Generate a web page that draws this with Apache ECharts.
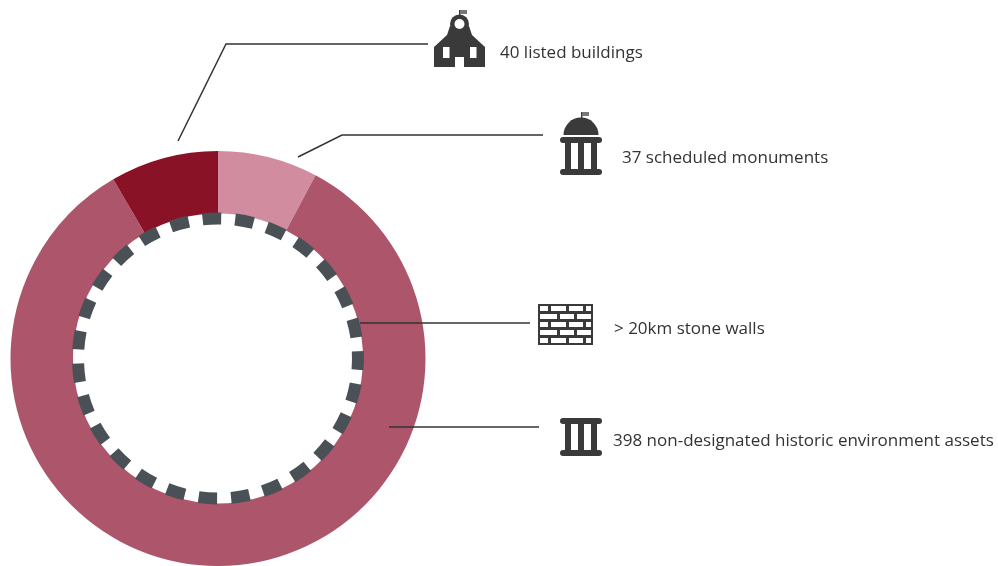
<!DOCTYPE html>
<html>
<head>
<meta charset="utf-8">
<style>
  html, body { margin: 0; padding: 0; background: #fff; }
  #main { width: 998px; height: 566px; }
</style>
<script src="https://cdn.jsdelivr.net/npm/echarts@6/dist/echarts.min.js"></script>
</head>
<body>
<div id="main"></div>
<script>
var assetNames = ['37 scheduled monuments', '398 non-designated historic environment assets', '40 listed buildings'];
var assetValues = [37, 398, 40];
var assetColors = ['#d18c9f', '#ad556b', '#8a1226'];

// stone wall ring, one dash + one gap per entry, in degrees
var wallDashes = [7.6, 7.6, 7.6, 7.6, 7.6, 7.6, 7.6, 7.6, 7.6, 7.6, 7.6, 7.6, 7.6, 7.6, 7.6, 7.6, 7.6, 7.6, 7.6, 7.6, 7.6, 7.6, 7.6, 7.6, 7.6, 7.6, 7.6];
var wallGaps = [5.73, 5.73, 5.73, 5.73, 5.73, 5.73, 5.73, 5.73, 5.73, 5.73, 5.73, 5.73, 5.73, 5.73, 5.73, 5.73, 5.73, 5.73, 5.73, 5.73, 5.73, 5.73, 5.73, 5.73, 5.73, 5.73, 5.73];

var labelTexts = ['40 listed buildings', '37 scheduled monuments', '> 20km stone walls', '398 non-designated historic environment assets'];

var inkColor = '#3a3a3a';
var textFont = '17px "Open Sans"';

var wallData = [];
wallDashes.forEach(function(d, i) {
	wallData.push({ value: d, itemStyle: { color: '#4a5156' } });
	wallData.push({ value: wallGaps[i], itemStyle: { color: 'transparent' } });
});

function rect(x, y, w, h, fill, r) {
	return { type: 'rect', z: 100, shape: { x: x, y: y, width: w, height: h, r: r || 0 }, style: { fill: fill || inkColor } };
}

function leader(points) {
	return { type: 'polyline', z: 100, shape: { points: points }, style: { stroke: '#333', lineWidth: 1.5, fill: null } };
}

function label(text, x, y) {
	return { type: 'text', z: 100, x: x, y: y, style: { text: text, font: textFont, fill: '#333', verticalAlign: 'middle' } };
}

function flag(x, y) {
	return [rect(x, y, 1.5, 8), rect(x + 1, y, 7, 4, '#777')];
}

function churchIcon() {
	return [
		{ type: 'polygon', z: 100, shape: { points: [[450, 26], [469, 26], [472, 35], [485, 47], [485, 67], [434, 67], [434, 47], [447, 35]] }, style: { fill: inkColor } },
		{ type: 'circle', z: 100, shape: { cx: 459.5, cy: 24, r: 9.5 }, style: { fill: inkColor } },
		{ type: 'circle', z: 101, shape: { cx: 459.5, cy: 24, r: 5 }, style: { fill: '#fff' } },
		rect(443, 47, 6.5, 11, '#fff'),
		rect(470, 47, 6.5, 11, '#fff'),
		rect(455, 57, 9, 10, '#fff')
	].concat(flag(459, 10));
}

function columnRow(y, h) {
	return [565, 578, 591].map(function(x) {
		return rect(x, y, 6, h);
	});
}

function monumentIcon() {
	return [
		{ type: 'sector', z: 100, shape: { cx: 581, cy: 135, r: 17.5, r0: 0, startAngle: Math.PI, endAngle: Math.PI * 2 }, style: { fill: inkColor } },
		rect(560, 137, 42, 6, inkColor, 3),
		rect(560, 169, 42, 6, inkColor, 3)
	].concat(columnRow(142, 28), flag(581, 112));
}

function wallIcon() {
	var out = [rect(538, 304, 55, 41)];
	var rowH = 8;
	for (var row = 0; row < 5; row++) {
		var y = 306 + row * rowH;
		var edges = row % 2 === 0 ? [[540, 548], [551, 566], [569, 583], [586, 591]] : [[540, 557], [560, 574], [577, 591]];
		edges.forEach(function(e) {
			out.push(rect(e[0], y, e[1] - e[0], 5, '#fff'));
		});
	}
	return out;
}

function pillarIcon() {
	return [
		rect(560, 418, 42, 6, inkColor, 3),
		rect(560, 450, 42, 6, inkColor, 3)
	].concat(columnRow(424, 26));
}

var myChart = echarts.init(document.getElementById('main'));
var option = {
	animation: false,
	series: [
		{
			type: 'pie',
			silent: true,
			center: [218, 358.5],
			radius: [145, 207.5],
			startAngle: 90,
			label: { show: false },
			labelLine: { show: false },
			data: assetNames.map(function(n, i) {
				return { name: n, value: assetValues[i], itemStyle: { color: assetColors[i] } };
			})
		},
		{
			type: 'pie',
			silent: true,
			center: [218, 358.5],
			radius: [134, 146],
			startAngle: 96.3,
			label: { show: false },
			labelLine: { show: false },
			data: wallData
		}
	],
	graphic: {
		elements: [].concat(
			leader([[178, 141], [226, 44], [428, 44]]),
			leader([[298, 157], [342, 135], [543, 135]]),
			leader([[360, 323], [530, 323]]),
			leader([[389, 427], [539, 427]]),
			churchIcon(),
			monumentIcon(),
			wallIcon(),
			pillarIcon(),
			label(labelTexts[0], 500, 53),
			label(labelTexts[1], 622, 158),
			label(labelTexts[2], 614, 329),
			label(labelTexts[3], 613, 441)
		)
	}
};
myChart.setOption(option);
</script>
</body>
</html>
